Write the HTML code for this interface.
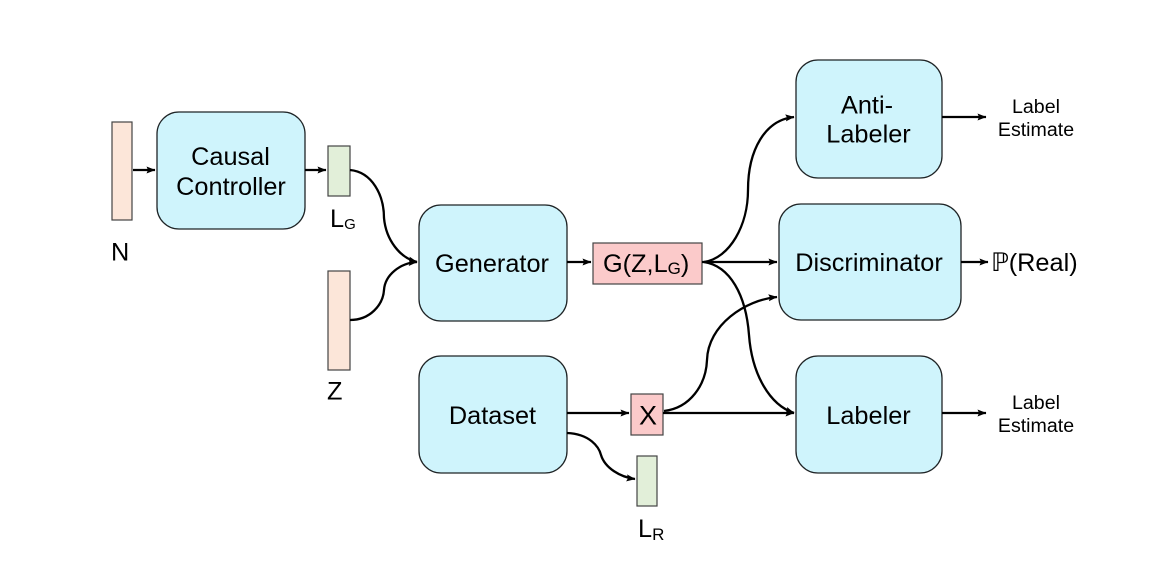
<!DOCTYPE html>
<html>
<head>
<meta charset="utf-8">
<style>
html,body{margin:0;padding:0;background:#fff;width:1152px;height:574px;overflow:hidden}
svg{display:block;filter:blur(0.35px)}
text{font-family:"Liberation Sans",Arial,sans-serif;fill:#000}
.box{fill:#cff4fc;stroke:#1f2426;stroke-width:1.3}
.pk{fill:#fce6d9;stroke:#444;stroke-width:1.2}
.gr{fill:#e2efd9;stroke:#444;stroke-width:1.2}
.rd{fill:#fbcaca;stroke:#444;stroke-width:1.2}
.l{fill:none;stroke:#000;stroke-width:2.3}
.ah{fill:#000}
</style>
</head>
<body>
<svg width="1152" height="574" viewBox="0 0 1152 574" xmlns="http://www.w3.org/2000/svg">
<defs>
<marker id="a" markerWidth="10" markerHeight="8" refX="8.5" refY="4" orient="auto" markerUnits="userSpaceOnUse">
<path d="M0,0.5 L9,4 L0,7.5 L1.5,4 Z" class="ah"/>
</marker>
</defs>
<rect x="112" y="122" width="20" height="98" class="pk"/>
<rect x="157" y="112" width="148" height="117" rx="22" class="box"/>
<rect x="328" y="146" width="22" height="50" class="gr"/>
<rect x="328" y="271" width="22" height="99" class="pk"/>
<rect x="419" y="205" width="148" height="116" rx="22" class="box"/>
<rect x="419" y="356" width="148" height="117" rx="22" class="box"/>
<rect x="593" y="243" width="109" height="41" class="rd"/>
<rect x="631" y="394" width="32" height="41" class="rd"/>
<rect x="637" y="456" width="20" height="50" class="gr"/>
<rect x="796" y="60" width="146" height="118" rx="22" class="box"/>
<rect x="779" y="204" width="182" height="116" rx="22" class="box"/>
<rect x="796" y="356" width="146" height="117" rx="22" class="box"/>

<path class="l" d="M133,170 H155" marker-end="url(#a)"/>
<path class="l" d="M305,170 H326" marker-end="url(#a)"/>
<path class="l" d="M350,170 C372,172 384,195 384,218 C386,240 400,258 417,262" marker-end="url(#a)"/>
<path class="l" d="M350,320 C370,320 383,305 384,290 C385,275 400,263 417,262" marker-end="url(#a)"/>
<path class="l" d="M567,262 H591" marker-end="url(#a)"/>
<path class="l" d="M704,262 C730,258 748,225 748,190 C748,150 765,120 794,117" marker-end="url(#a)"/>
<path class="l" d="M702,262 H777" marker-end="url(#a)"/>
<path class="l" d="M704,262 C730,266 746,295 749,335 C752,375 770,405 794,413" marker-end="url(#a)"/>
<path class="l" d="M567,413 H629" marker-end="url(#a)"/>
<path class="l" d="M664,411 C690,408 706,385 707,360 C708,325 745,300 777,297" marker-end="url(#a)"/>
<path class="l" d="M663,413 H794" marker-end="url(#a)"/>
<path class="l" d="M567,433 C590,434 599,447 601,455 C605,468 620,477 635,479" marker-end="url(#a)"/>
<path class="l" d="M942,117 H986" marker-end="url(#a)"/>
<path class="l" d="M961,262 H988" marker-end="url(#a)"/>
<path class="l" d="M942,413 H986" marker-end="url(#a)"/>

<g font-size="25.3">
<text x="230.5" y="165" text-anchor="middle">Causal</text>
<text x="231" y="195" text-anchor="middle">Controller</text>
<text x="492" y="272" text-anchor="middle">Generator</text>
<text x="492.5" y="424" text-anchor="middle">Dataset</text>
<text x="867" y="113.5" text-anchor="middle">Anti-</text>
<text x="868.5" y="142.5" text-anchor="middle">Labeler</text>
<text x="869" y="271" text-anchor="middle">Discriminator</text>
<text x="868.5" y="424" text-anchor="middle">Labeler</text>
<text x="111" y="260.5">N</text>
<text x="327" y="399.5">Z</text>
<text x="330" y="227">L<tspan font-size="15" dy="2">G</tspan></text>
<text x="638" y="537">L<tspan font-size="17" dy="3">R</tspan></text>
<text x="603" y="272">G(Z,L<tspan font-size="17" dy="2">G</tspan><tspan dy="-2">)</tspan></text>
<text x="648" y="424.5" text-anchor="middle" font-size="27">X</text>
<text x="991" y="271">ℙ(Real)</text>
</g>
<g font-size="19.6">
<text x="1036" y="113" text-anchor="middle">Label</text>
<text x="1036" y="136" text-anchor="middle">Estimate</text>
<text x="1036" y="409" text-anchor="middle">Label</text>
<text x="1036" y="432" text-anchor="middle">Estimate</text>
</g>
</svg>
</body>
</html>
